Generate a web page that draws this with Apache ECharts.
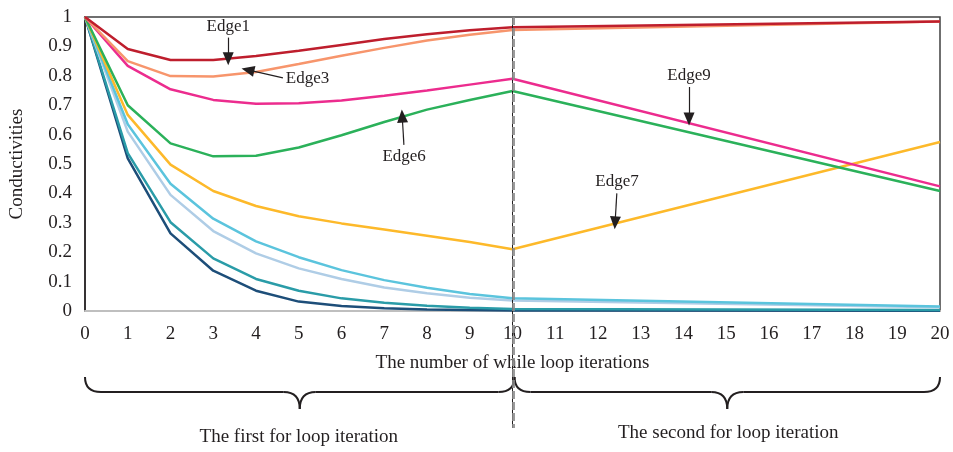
<!DOCTYPE html>
<html>
<head>
<meta charset="utf-8">
<script src="https://cdn.jsdelivr.net/npm/echarts@6/dist/echarts.min.js"></script>
<style>
  html, body { margin: 0; padding: 0; background: #fff; }
  #main { width: 953px; height: 452px; }
</style>
</head>
<body>
<div id="main"></div>
<script>
// x positions where values are known (11..19 are joined straight to 20)
var iterations = [0, 1, 2, 3, 4, 5, 6, 7, 8, 9, 10, 20];

// conductivity of each edge
var edge1 = [1, 0.891, 0.854, 0.854, 0.867, 0.885, 0.905, 0.925, 0.941, 0.955, 0.965, 0.985];
var edge3 = [1, 0.850, 0.799, 0.798, 0.813, 0.840, 0.868, 0.895, 0.920, 0.940, 0.956, 0.985];
var edge9 = [1, 0.834, 0.754, 0.718, 0.705, 0.707, 0.716, 0.732, 0.750, 0.770, 0.790, 0.424];
var edge6 = [1, 0.700, 0.570, 0.526, 0.528, 0.556, 0.598, 0.643, 0.685, 0.718, 0.748, 0.408];
var edge7 = [1, 0.667, 0.498, 0.408, 0.357, 0.322, 0.298, 0.277, 0.256, 0.235, 0.210, 0.575];
var edgeCyan = [1, 0.635, 0.433, 0.314, 0.237, 0.183, 0.139, 0.105, 0.079, 0.058, 0.043, 0.015];
var edgePale = [1, 0.610, 0.395, 0.272, 0.196, 0.145, 0.109, 0.080, 0.060, 0.045, 0.036, 0.013];
var edgeTeal = [1, 0.537, 0.302, 0.179, 0.109, 0.069, 0.043, 0.028, 0.018, 0.011, 0.007, 0.003];
var edgeNavy = [1, 0.519, 0.264, 0.137, 0.069, 0.032, 0.017, 0.009, 0.005, 0.003, 0.002, 0.001];

var FONT = 'Liberation Serif';

function pairs(values) {
    return iterations.map(function (x, i) { return [x, values[i]]; });
}

// arrow with label, in data coordinates
function arrow(text, from, to) {
    return {
        silent: true,
        symbol: ['none', 'triangle'],
        symbolSize: [11, 13],
        lineStyle: { color: '#231f20', width: 1.2, type: 'solid' },
        label: {
            show: true, position: 'start', formatter: text, distance: 3,
            color: '#231f20', fontFamily: FONT, fontSize: 17
        },
        emphasis: { disabled: true },
        data: [[{ coord: from }, { coord: to }]]
    };
}

function line(name, values, color, mark) {
    var s = {
        name: name,
        type: 'line',
        data: pairs(values),
        showSymbol: false,
        symbol: 'none',
        lineStyle: { color: color, width: 2.5 },
        itemStyle: { color: color }
    };
    if (mark) s.markLine = mark;
    return s;
}

var myChart = echarts.init(document.getElementById('main'));

var option = {
    animation: false,
    grid: {
        left: 85, right: 13, top: 17, bottom: 141,
        outerBoundsMode: 'none',
        show: true, borderColor: '#404040', borderWidth: 1.5
    },
    xAxis: {
        type: 'value',
        min: 0, max: 20, interval: 1,
        name: 'The number of while loop iterations',
        nameLocation: 'middle',
        nameGap: 43,
        nameTextStyle: { fontFamily: FONT, fontSize: 19, color: '#231f20' },
        axisLine: { lineStyle: { color: '#bfbfbf', width: 2 } },
        axisTick: { show: false },
        splitLine: { show: false },
        axisLabel: { margin: 14, fontFamily: FONT, fontSize: 19, color: '#231f20' }
    },
    yAxis: {
        type: 'value',
        min: 0, max: 1, interval: 0.1,
        name: 'Conductivities',
        nameLocation: 'middle',
        nameGap: 58,
        nameTextStyle: { fontFamily: FONT, fontSize: 19, color: '#231f20' },
        axisLine: { show: true, lineStyle: { color: '#231f20', width: 1.5 } },
        axisTick: { show: false },
        splitLine: { show: false },
        axisLabel: {
            margin: 13, fontFamily: FONT, fontSize: 19, color: '#231f20',
            formatter: function (v) { return String(+v.toFixed(1)); }
        }
    },
    series: [
        line('EdgeNavy', edgeNavy, '#1d4e79'),
        line('EdgeTeal', edgeTeal, '#2a9ca8'),
        line('EdgePale', edgePale, '#afcde6'),
        line('EdgeCyan', edgeCyan, '#5bc4dd'),
        line('Edge7', edge7, '#fdb92a', arrow('Edge7', [12.44, 0.40], [12.40, 0.30])),
        line('Edge6', edge6, '#2bb15a', arrow('Edge6', [7.46, 0.565], [7.42, 0.663])),
        line('Edge9', edge9, '#ec2c8e', arrow('Edge9', [14.13, 0.762], [14.13, 0.653])),
        line('Edge3', edge3, '#f7956c', arrow('Edge3', [4.63, 0.793], [3.81, 0.820])),
        line('Edge1', edge1, '#be1e2d', arrow('Edge1', [3.35, 0.93], [3.35, 0.858]))
    ]
};

myChart.setOption(option);

// divider at iteration 10 and the two braces under the axis
var p0 = myChart.convertToPixel({ gridIndex: 0 }, [0, 1]);
var p10 = myChart.convertToPixel({ gridIndex: 0 }, [10, 1]);
var p20 = myChart.convertToPixel({ gridIndex: 0 }, [20, 1]);

var braceStyle = { stroke: '#231f20', lineWidth: 2, fill: null };

// a curly brace opening upwards, made of curves and straight pieces
function brace(x0, x1, yTop, yMid, yTip) {
    var xm = (x0 + x1) / 2, r = 16;
    function curve(ax, ay, cx, cy, bx, by) {
        return { type: 'bezierCurve', silent: true, style: braceStyle,
            shape: { x1: ax, y1: ay, cpx1: cx, cpy1: cy, x2: bx, y2: by } };
    }
    function seg(ax, ay, bx, by) {
        return { type: 'line', silent: true, style: braceStyle,
            shape: { x1: ax, y1: ay, x2: bx, y2: by } };
    }
    return [
        curve(x0, yTop, x0, yMid, x0 + r, yMid),
        seg(x0 + r, yMid, xm - r, yMid),
        curve(xm - r, yMid, xm, yMid, xm, yTip),
        curve(xm, yTip, xm, yMid, xm + r, yMid),
        seg(xm + r, yMid, x1 - r, yMid),
        curve(x1 - r, yMid, x1, yMid, x1, yTop)
    ];
}

var textStyle = { fontFamily: FONT, fontSize: 19, fill: '#231f20', align: 'center', verticalAlign: 'middle' };

var extras = []
    .concat(brace(p0[0], p10[0] + 2, 377, 392, 409))
    .concat(brace(p10[0] + 2, p20[0], 377, 392, 409))
    .concat([
        { type: 'text', x: (p0[0] + p10[0]) / 2, y: 437, style: Object.assign({ text: 'The first for loop iteration' }, textStyle) },
        { type: 'text', x: (p10[0] + p20[0]) / 2 + 2, y: 433, style: Object.assign({ text: 'The second for loop iteration' }, textStyle) },
        { type: 'line', shape: { x1: p10[0], y1: p10[1], x2: p10[0], y2: 428 }, style: { stroke: '#231f20', lineWidth: 1 }, z: 10, silent: true },
        { type: 'line', shape: { x1: p10[0] + 1, y1: p10[1], x2: p10[0] + 1, y2: 428 }, style: { stroke: '#8a8a8a', lineWidth: 3, lineDash: [8, 3], opacity: 0.85 }, z: 11, silent: true }
    ]);

myChart.setOption({ graphic: extras });
</script>
</body>
</html>
